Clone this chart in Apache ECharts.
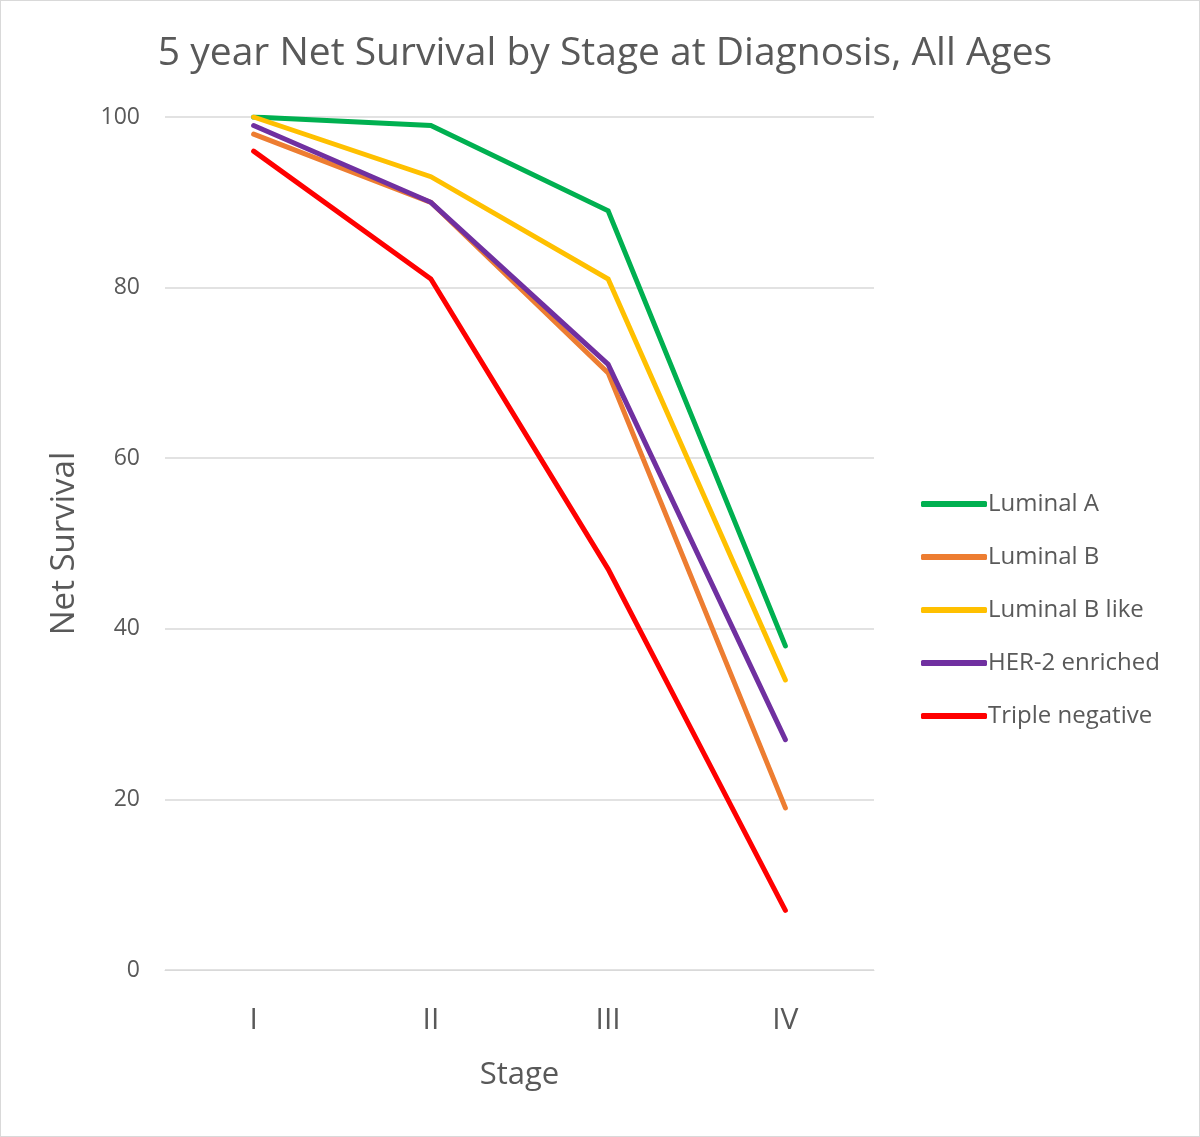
<!DOCTYPE html>
<html>
<head>
<meta charset="utf-8">
<script src="https://cdn.jsdelivr.net/npm/echarts@6/dist/echarts.min.js"></script>
<style>
html,body{margin:0;padding:0;background:#fff;}
#wrap{position:absolute;left:0;top:0;width:1198px;height:1135px;border:1px solid #d9d9d9;}
#chart{width:1198px;height:1135px;}
</style>
</head>
<body>
<div id="wrap"><div id="chart"></div></div>
<script>
const categories = ['I', 'II', 'III', 'IV'];
const luminalA = [100, 99, 89, 38];
const luminalB = [98, 90, 70, 19];
const luminalBLike = [100, 93, 81, 34];
const her2 = [99, 90, 71, 27];
const tripleNeg = [96, 81, 47, 7];
const yTicks = [0, 20, 40, 60, 80, 100];

const font = "'Open Sans', 'Liberation Sans', sans-serif";
const chart = echarts.init(document.getElementById('chart'));
function s(name, data, color) {
  return {
    name, type: 'line', data, symbol: 'none',
    lineStyle: { color, width: 5, cap: 'round', join: 'miter' },
    itemStyle: { color }
  };
}
chart.setOption({
  animation: false,
  title: {
    text: '5 year Net Survival by Stage at Diagnosis, All Ages',
    left: 599, top: 28, textAlign: 'center',
    textStyle: { fontFamily: font, fontSize: 39, fontWeight: 'normal', color: '#595959' }
  },
  grid: { left: 164, top: 116, right: 325, bottom: 166 },
  legend: {
    orient: 'vertical', left: 915, top: 486,
    icon: 'roundRect', itemWidth: 66, itemHeight: 6, itemGap: 29,
    textStyle: { fontFamily: font, fontSize: 24, color: '#595959', padding: [0,0,0,-4] },
    data: ['Luminal A', 'Luminal B', 'Luminal B like', 'HER-2 enriched', 'Triple negative']
  },
  xAxis: {
    type: 'category', data: categories, boundaryGap: true,
    name: 'Stage', nameLocation: 'middle', nameGap: 90,
    nameTextStyle: { fontFamily: font, fontSize: 31, color: '#595959' },
    axisLine: { lineStyle: { color: '#d9d9d9', width: 1 } },
    axisTick: { show: false },
    axisLabel: { fontFamily: font, fontSize: 30, color: '#595959', margin: 35 }
  },
  yAxis: {
    type: 'value', min: yTicks[0], max: yTicks[yTicks.length - 1], interval: 20,
    name: 'Net Survival', nameLocation: 'middle', nameGap: 84, nameRotate: 90,
    nameTextStyle: { fontFamily: font, fontSize: 33, color: '#595959' },
    axisLine: { show: false }, axisTick: { show: false },
    axisLabel: { fontFamily: font, fontSize: 23, color: '#595959', margin: 25 },
    splitLine: { lineStyle: { color: '#d9d9d9', width: 1.5 } }
  },
  series: [
    s('Luminal A', luminalA, '#00B050'),
    s('Luminal B', luminalB, '#ED7D31'),
    s('Luminal B like', luminalBLike, '#FFC000'),
    s('HER-2 enriched', her2, '#7030A0'),
    s('Triple negative', tripleNeg, '#FF0000')
  ]
});
</script>
</body>
</html>
